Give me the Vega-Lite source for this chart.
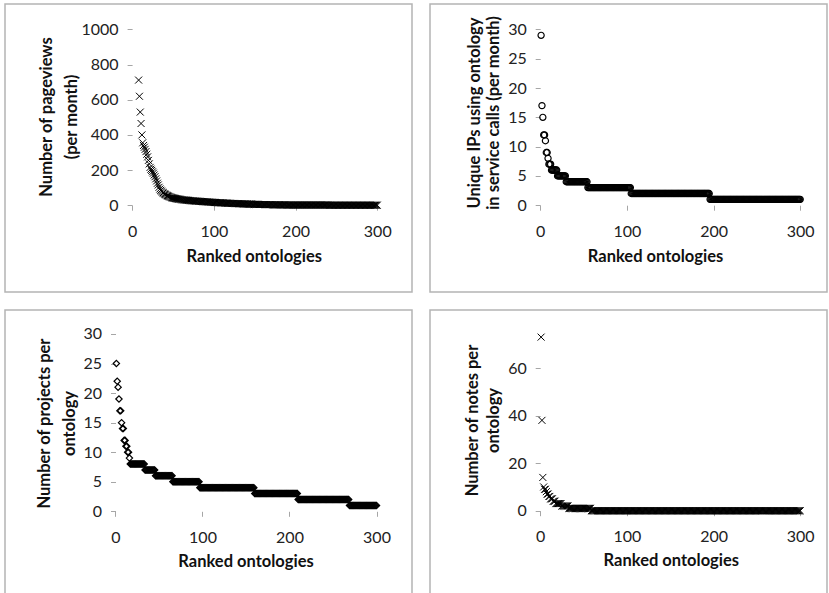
{
"$schema": "https://vega.github.io/schema/vega-lite/v6.json",
"padding": {"left": 4, "top": 3, "right": 0, "bottom": 0},
"background": "white",
"columns": 2,
"spacing": 16,
"config": {
 "view": {"stroke": "#b4b4b4", "strokeWidth": 1.5},
 "font": "Lato",
 "axis": {"grid": false, "domain": false, "tickColor": "#a6a6a6", "tickSize": 5, "tickWidth": 1, "labelFont": "Lato", "labelFontSize": 16, "labelColor": "#222222", "titleFont": "Lato", "titleFontSize": 16.5, "titleFontWeight": "bold", "titleColor": "#111111", "labelFlush": false, "labelOverlap": false, "format": "d"}
},
"datasets": {
"pv": [{"r":8,"v":712},{"r":9,"v":620},{"r":10,"v":530},{"r":11,"v":465},{"r":12,"v":400},{"r":13,"v":355},{"r":14,"v":340},{"r":15,"v":330},{"r":16,"v":318},{"r":17,"v":305},{"r":18,"v":290},{"r":19,"v":275},{"r":20,"v":255},{"r":21,"v":235},{"r":22,"v":215},{"r":23,"v":205},{"r":24,"v":198},{"r":25,"v":190},{"r":26,"v":182},{"r":27,"v":172},{"r":28,"v":162},{"r":29,"v":150},{"r":30,"v":138},{"r":31,"v":125},{"r":32,"v":115},{"r":33,"v":102},{"r":34,"v":92},{"r":35,"v":85},{"r":36,"v":80},{"r":37,"v":74},{"r":38,"v":70},{"r":39,"v":66},{"r":40,"v":63},{"r":41,"v":60},{"r":42,"v":57},{"r":43,"v":54},{"r":44,"v":52},{"r":45,"v":50},{"r":46,"v":48},{"r":47,"v":46},{"r":48,"v":44},{"r":49,"v":42},{"r":50,"v":41},{"r":51,"v":40},{"r":52,"v":39},{"r":53,"v":38},{"r":54,"v":37},{"r":55,"v":36},{"r":56,"v":35},{"r":57,"v":34},{"r":58,"v":34},{"r":59,"v":33},{"r":60,"v":32},{"r":61,"v":31},{"r":62,"v":31},{"r":63,"v":30},{"r":64,"v":30},{"r":65,"v":29},{"r":66,"v":29},{"r":67,"v":28},{"r":68,"v":28},{"r":69,"v":27},{"r":70,"v":27},{"r":71,"v":26},{"r":72,"v":26},{"r":73,"v":25},{"r":74,"v":25},{"r":75,"v":25},{"r":76,"v":24},{"r":77,"v":24},{"r":78,"v":23},{"r":79,"v":23},{"r":80,"v":23},{"r":81,"v":22},{"r":82,"v":22},{"r":83,"v":22},{"r":84,"v":21},{"r":85,"v":21},{"r":86,"v":21},{"r":87,"v":20},{"r":88,"v":20},{"r":89,"v":20},{"r":90,"v":19},{"r":91,"v":19},{"r":92,"v":19},{"r":93,"v":18},{"r":94,"v":18},{"r":95,"v":18},{"r":96,"v":17},{"r":97,"v":17},{"r":98,"v":17},{"r":99,"v":16},{"r":100,"v":16},{"r":101,"v":16},{"r":102,"v":15},{"r":103,"v":15},{"r":104,"v":15},{"r":105,"v":14},{"r":106,"v":14},{"r":107,"v":14},{"r":108,"v":14},{"r":109,"v":13},{"r":110,"v":13},{"r":111,"v":13},{"r":112,"v":13},{"r":113,"v":12},{"r":114,"v":12},{"r":115,"v":12},{"r":116,"v":12},{"r":117,"v":11},{"r":118,"v":11},{"r":119,"v":11},{"r":120,"v":11},{"r":121,"v":10},{"r":122,"v":10},{"r":123,"v":10},{"r":124,"v":10},{"r":125,"v":10},{"r":126,"v":9},{"r":127,"v":9},{"r":128,"v":9},{"r":129,"v":9},{"r":130,"v":9},{"r":131,"v":8},{"r":132,"v":8},{"r":133,"v":8},{"r":134,"v":8},{"r":135,"v":8},{"r":136,"v":7},{"r":137,"v":7},{"r":138,"v":7},{"r":139,"v":7},{"r":140,"v":7},{"r":141,"v":7},{"r":142,"v":6},{"r":143,"v":6},{"r":144,"v":6},{"r":145,"v":6},{"r":146,"v":6},{"r":147,"v":6},{"r":148,"v":5},{"r":149,"v":5},{"r":150,"v":5},{"r":151,"v":5},{"r":152,"v":5},{"r":153,"v":5},{"r":154,"v":5},{"r":155,"v":4},{"r":156,"v":4},{"r":157,"v":4},{"r":158,"v":4},{"r":159,"v":4},{"r":160,"v":4},{"r":161,"v":4},{"r":162,"v":4},{"r":163,"v":3},{"r":164,"v":3},{"r":165,"v":3},{"r":166,"v":3},{"r":167,"v":3},{"r":168,"v":3},{"r":169,"v":3},{"r":170,"v":3},{"r":171,"v":3},{"r":172,"v":3},{"r":173,"v":2},{"r":174,"v":2},{"r":175,"v":2},{"r":176,"v":2},{"r":177,"v":2},{"r":178,"v":2},{"r":179,"v":2},{"r":180,"v":2},{"r":181,"v":2},{"r":182,"v":2},{"r":183,"v":2},{"r":184,"v":2},{"r":185,"v":2},{"r":186,"v":2},{"r":187,"v":2},{"r":188,"v":2},{"r":189,"v":1},{"r":190,"v":1},{"r":191,"v":1},{"r":192,"v":1},{"r":193,"v":1},{"r":194,"v":1},{"r":195,"v":1},{"r":196,"v":1},{"r":197,"v":1},{"r":198,"v":1},{"r":199,"v":1},{"r":200,"v":1},{"r":201,"v":1},{"r":202,"v":1},{"r":203,"v":1},{"r":204,"v":1},{"r":205,"v":1},{"r":206,"v":1},{"r":207,"v":1},{"r":208,"v":1},{"r":209,"v":1},{"r":210,"v":1},{"r":211,"v":1},{"r":212,"v":1},{"r":213,"v":1},{"r":214,"v":1},{"r":215,"v":1},{"r":216,"v":1},{"r":217,"v":1},{"r":218,"v":1},{"r":219,"v":1},{"r":220,"v":1},{"r":221,"v":1},{"r":222,"v":1},{"r":223,"v":1},{"r":224,"v":1},{"r":225,"v":1},{"r":226,"v":1},{"r":227,"v":1},{"r":228,"v":1},{"r":229,"v":1},{"r":230,"v":1},{"r":231,"v":1},{"r":232,"v":1},{"r":233,"v":1},{"r":234,"v":1},{"r":235,"v":1},{"r":236,"v":1},{"r":237,"v":1},{"r":238,"v":1},{"r":239,"v":1},{"r":240,"v":1},{"r":241,"v":0},{"r":242,"v":0},{"r":243,"v":0},{"r":244,"v":0},{"r":245,"v":0},{"r":246,"v":0},{"r":247,"v":0},{"r":248,"v":0},{"r":249,"v":0},{"r":250,"v":0},{"r":251,"v":0},{"r":252,"v":0},{"r":253,"v":0},{"r":254,"v":0},{"r":255,"v":0},{"r":256,"v":0},{"r":257,"v":0},{"r":258,"v":0},{"r":259,"v":0},{"r":260,"v":0},{"r":261,"v":0},{"r":262,"v":0},{"r":263,"v":0},{"r":264,"v":0},{"r":265,"v":0},{"r":266,"v":0},{"r":267,"v":0},{"r":268,"v":0},{"r":269,"v":0},{"r":270,"v":0},{"r":271,"v":0},{"r":272,"v":0},{"r":273,"v":0},{"r":274,"v":0},{"r":275,"v":0},{"r":276,"v":0},{"r":277,"v":0},{"r":278,"v":0},{"r":279,"v":0},{"r":280,"v":0},{"r":281,"v":0},{"r":282,"v":0},{"r":283,"v":0},{"r":284,"v":0},{"r":285,"v":0},{"r":286,"v":0},{"r":287,"v":0},{"r":288,"v":0},{"r":289,"v":0},{"r":290,"v":0},{"r":291,"v":0},{"r":292,"v":0},{"r":293,"v":0},{"r":294,"v":0},{"r":295,"v":0},{"r":296,"v":0},{"r":297,"v":0},{"r":298,"v":0},{"r":299,"v":0},{"r":300,"v":0}],
"ip": [{"r":1,"v":29},{"r":2,"v":17},{"r":3,"v":15},{"r":4,"v":12},{"r":5,"v":12},{"r":6,"v":11},{"r":7,"v":9},{"r":8,"v":9},{"r":9,"v":8},{"r":10,"v":7},{"r":11,"v":7},{"r":12,"v":7},{"r":13,"v":6},{"r":14,"v":6},{"r":15,"v":6},{"r":16,"v":6},{"r":17,"v":6},{"r":18,"v":6},{"r":19,"v":6},{"r":20,"v":5},{"r":21,"v":5},{"r":22,"v":5},{"r":23,"v":5},{"r":24,"v":5},{"r":25,"v":5},{"r":26,"v":5},{"r":27,"v":5},{"r":28,"v":5},{"r":29,"v":5},{"r":30,"v":4},{"r":31,"v":4},{"r":32,"v":4},{"r":33,"v":4},{"r":34,"v":4},{"r":35,"v":4},{"r":36,"v":4},{"r":37,"v":4},{"r":38,"v":4},{"r":39,"v":4},{"r":40,"v":4},{"r":41,"v":4},{"r":42,"v":4},{"r":43,"v":4},{"r":44,"v":4},{"r":45,"v":4},{"r":46,"v":4},{"r":47,"v":4},{"r":48,"v":4},{"r":49,"v":4},{"r":50,"v":4},{"r":51,"v":4},{"r":52,"v":4},{"r":53,"v":4},{"r":54,"v":4},{"r":55,"v":3},{"r":56,"v":3},{"r":57,"v":3},{"r":58,"v":3},{"r":59,"v":3},{"r":60,"v":3},{"r":61,"v":3},{"r":62,"v":3},{"r":63,"v":3},{"r":64,"v":3},{"r":65,"v":3},{"r":66,"v":3},{"r":67,"v":3},{"r":68,"v":3},{"r":69,"v":3},{"r":70,"v":3},{"r":71,"v":3},{"r":72,"v":3},{"r":73,"v":3},{"r":74,"v":3},{"r":75,"v":3},{"r":76,"v":3},{"r":77,"v":3},{"r":78,"v":3},{"r":79,"v":3},{"r":80,"v":3},{"r":81,"v":3},{"r":82,"v":3},{"r":83,"v":3},{"r":84,"v":3},{"r":85,"v":3},{"r":86,"v":3},{"r":87,"v":3},{"r":88,"v":3},{"r":89,"v":3},{"r":90,"v":3},{"r":91,"v":3},{"r":92,"v":3},{"r":93,"v":3},{"r":94,"v":3},{"r":95,"v":3},{"r":96,"v":3},{"r":97,"v":3},{"r":98,"v":3},{"r":99,"v":3},{"r":100,"v":3},{"r":101,"v":3},{"r":102,"v":3},{"r":103,"v":3},{"r":104,"v":3},{"r":105,"v":2},{"r":106,"v":2},{"r":107,"v":2},{"r":108,"v":2},{"r":109,"v":2},{"r":110,"v":2},{"r":111,"v":2},{"r":112,"v":2},{"r":113,"v":2},{"r":114,"v":2},{"r":115,"v":2},{"r":116,"v":2},{"r":117,"v":2},{"r":118,"v":2},{"r":119,"v":2},{"r":120,"v":2},{"r":121,"v":2},{"r":122,"v":2},{"r":123,"v":2},{"r":124,"v":2},{"r":125,"v":2},{"r":126,"v":2},{"r":127,"v":2},{"r":128,"v":2},{"r":129,"v":2},{"r":130,"v":2},{"r":131,"v":2},{"r":132,"v":2},{"r":133,"v":2},{"r":134,"v":2},{"r":135,"v":2},{"r":136,"v":2},{"r":137,"v":2},{"r":138,"v":2},{"r":139,"v":2},{"r":140,"v":2},{"r":141,"v":2},{"r":142,"v":2},{"r":143,"v":2},{"r":144,"v":2},{"r":145,"v":2},{"r":146,"v":2},{"r":147,"v":2},{"r":148,"v":2},{"r":149,"v":2},{"r":150,"v":2},{"r":151,"v":2},{"r":152,"v":2},{"r":153,"v":2},{"r":154,"v":2},{"r":155,"v":2},{"r":156,"v":2},{"r":157,"v":2},{"r":158,"v":2},{"r":159,"v":2},{"r":160,"v":2},{"r":161,"v":2},{"r":162,"v":2},{"r":163,"v":2},{"r":164,"v":2},{"r":165,"v":2},{"r":166,"v":2},{"r":167,"v":2},{"r":168,"v":2},{"r":169,"v":2},{"r":170,"v":2},{"r":171,"v":2},{"r":172,"v":2},{"r":173,"v":2},{"r":174,"v":2},{"r":175,"v":2},{"r":176,"v":2},{"r":177,"v":2},{"r":178,"v":2},{"r":179,"v":2},{"r":180,"v":2},{"r":181,"v":2},{"r":182,"v":2},{"r":183,"v":2},{"r":184,"v":2},{"r":185,"v":2},{"r":186,"v":2},{"r":187,"v":2},{"r":188,"v":2},{"r":189,"v":2},{"r":190,"v":2},{"r":191,"v":2},{"r":192,"v":2},{"r":193,"v":2},{"r":194,"v":2},{"r":195,"v":2},{"r":196,"v":1},{"r":197,"v":1},{"r":198,"v":1},{"r":199,"v":1},{"r":200,"v":1},{"r":201,"v":1},{"r":202,"v":1},{"r":203,"v":1},{"r":204,"v":1},{"r":205,"v":1},{"r":206,"v":1},{"r":207,"v":1},{"r":208,"v":1},{"r":209,"v":1},{"r":210,"v":1},{"r":211,"v":1},{"r":212,"v":1},{"r":213,"v":1},{"r":214,"v":1},{"r":215,"v":1},{"r":216,"v":1},{"r":217,"v":1},{"r":218,"v":1},{"r":219,"v":1},{"r":220,"v":1},{"r":221,"v":1},{"r":222,"v":1},{"r":223,"v":1},{"r":224,"v":1},{"r":225,"v":1},{"r":226,"v":1},{"r":227,"v":1},{"r":228,"v":1},{"r":229,"v":1},{"r":230,"v":1},{"r":231,"v":1},{"r":232,"v":1},{"r":233,"v":1},{"r":234,"v":1},{"r":235,"v":1},{"r":236,"v":1},{"r":237,"v":1},{"r":238,"v":1},{"r":239,"v":1},{"r":240,"v":1},{"r":241,"v":1},{"r":242,"v":1},{"r":243,"v":1},{"r":244,"v":1},{"r":245,"v":1},{"r":246,"v":1},{"r":247,"v":1},{"r":248,"v":1},{"r":249,"v":1},{"r":250,"v":1},{"r":251,"v":1},{"r":252,"v":1},{"r":253,"v":1},{"r":254,"v":1},{"r":255,"v":1},{"r":256,"v":1},{"r":257,"v":1},{"r":258,"v":1},{"r":259,"v":1},{"r":260,"v":1},{"r":261,"v":1},{"r":262,"v":1},{"r":263,"v":1},{"r":264,"v":1},{"r":265,"v":1},{"r":266,"v":1},{"r":267,"v":1},{"r":268,"v":1},{"r":269,"v":1},{"r":270,"v":1},{"r":271,"v":1},{"r":272,"v":1},{"r":273,"v":1},{"r":274,"v":1},{"r":275,"v":1},{"r":276,"v":1},{"r":277,"v":1},{"r":278,"v":1},{"r":279,"v":1},{"r":280,"v":1},{"r":281,"v":1},{"r":282,"v":1},{"r":283,"v":1},{"r":284,"v":1},{"r":285,"v":1},{"r":286,"v":1},{"r":287,"v":1},{"r":288,"v":1},{"r":289,"v":1},{"r":290,"v":1},{"r":291,"v":1},{"r":292,"v":1},{"r":293,"v":1},{"r":294,"v":1},{"r":295,"v":1},{"r":296,"v":1},{"r":297,"v":1},{"r":298,"v":1},{"r":299,"v":1},{"r":300,"v":1}],
"pr": [{"r":1,"v":25},{"r":2,"v":22},{"r":3,"v":21},{"r":4,"v":19},{"r":5,"v":17},{"r":6,"v":17},{"r":7,"v":15},{"r":8,"v":14},{"r":9,"v":14},{"r":10,"v":12},{"r":11,"v":12},{"r":12,"v":11},{"r":13,"v":11},{"r":14,"v":10},{"r":15,"v":10},{"r":16,"v":9},{"r":17,"v":8},{"r":18,"v":8},{"r":19,"v":8},{"r":20,"v":8},{"r":21,"v":8},{"r":22,"v":8},{"r":23,"v":8},{"r":24,"v":8},{"r":25,"v":8},{"r":26,"v":8},{"r":27,"v":8},{"r":28,"v":8},{"r":29,"v":8},{"r":30,"v":8},{"r":31,"v":8},{"r":32,"v":8},{"r":33,"v":8},{"r":34,"v":7},{"r":35,"v":7},{"r":36,"v":7},{"r":37,"v":7},{"r":38,"v":7},{"r":39,"v":7},{"r":40,"v":7},{"r":41,"v":7},{"r":42,"v":7},{"r":43,"v":7},{"r":44,"v":7},{"r":45,"v":7},{"r":46,"v":6},{"r":47,"v":6},{"r":48,"v":6},{"r":49,"v":6},{"r":50,"v":6},{"r":51,"v":6},{"r":52,"v":6},{"r":53,"v":6},{"r":54,"v":6},{"r":55,"v":6},{"r":56,"v":6},{"r":57,"v":6},{"r":58,"v":6},{"r":59,"v":6},{"r":60,"v":6},{"r":61,"v":6},{"r":62,"v":6},{"r":63,"v":6},{"r":64,"v":6},{"r":65,"v":6},{"r":66,"v":5},{"r":67,"v":5},{"r":68,"v":5},{"r":69,"v":5},{"r":70,"v":5},{"r":71,"v":5},{"r":72,"v":5},{"r":73,"v":5},{"r":74,"v":5},{"r":75,"v":5},{"r":76,"v":5},{"r":77,"v":5},{"r":78,"v":5},{"r":79,"v":5},{"r":80,"v":5},{"r":81,"v":5},{"r":82,"v":5},{"r":83,"v":5},{"r":84,"v":5},{"r":85,"v":5},{"r":86,"v":5},{"r":87,"v":5},{"r":88,"v":5},{"r":89,"v":5},{"r":90,"v":5},{"r":91,"v":5},{"r":92,"v":5},{"r":93,"v":5},{"r":94,"v":5},{"r":95,"v":5},{"r":96,"v":5},{"r":97,"v":4},{"r":98,"v":4},{"r":99,"v":4},{"r":100,"v":4},{"r":101,"v":4},{"r":102,"v":4},{"r":103,"v":4},{"r":104,"v":4},{"r":105,"v":4},{"r":106,"v":4},{"r":107,"v":4},{"r":108,"v":4},{"r":109,"v":4},{"r":110,"v":4},{"r":111,"v":4},{"r":112,"v":4},{"r":113,"v":4},{"r":114,"v":4},{"r":115,"v":4},{"r":116,"v":4},{"r":117,"v":4},{"r":118,"v":4},{"r":119,"v":4},{"r":120,"v":4},{"r":121,"v":4},{"r":122,"v":4},{"r":123,"v":4},{"r":124,"v":4},{"r":125,"v":4},{"r":126,"v":4},{"r":127,"v":4},{"r":128,"v":4},{"r":129,"v":4},{"r":130,"v":4},{"r":131,"v":4},{"r":132,"v":4},{"r":133,"v":4},{"r":134,"v":4},{"r":135,"v":4},{"r":136,"v":4},{"r":137,"v":4},{"r":138,"v":4},{"r":139,"v":4},{"r":140,"v":4},{"r":141,"v":4},{"r":142,"v":4},{"r":143,"v":4},{"r":144,"v":4},{"r":145,"v":4},{"r":146,"v":4},{"r":147,"v":4},{"r":148,"v":4},{"r":149,"v":4},{"r":150,"v":4},{"r":151,"v":4},{"r":152,"v":4},{"r":153,"v":4},{"r":154,"v":4},{"r":155,"v":4},{"r":156,"v":4},{"r":157,"v":4},{"r":158,"v":4},{"r":159,"v":4},{"r":160,"v":3},{"r":161,"v":3},{"r":162,"v":3},{"r":163,"v":3},{"r":164,"v":3},{"r":165,"v":3},{"r":166,"v":3},{"r":167,"v":3},{"r":168,"v":3},{"r":169,"v":3},{"r":170,"v":3},{"r":171,"v":3},{"r":172,"v":3},{"r":173,"v":3},{"r":174,"v":3},{"r":175,"v":3},{"r":176,"v":3},{"r":177,"v":3},{"r":178,"v":3},{"r":179,"v":3},{"r":180,"v":3},{"r":181,"v":3},{"r":182,"v":3},{"r":183,"v":3},{"r":184,"v":3},{"r":185,"v":3},{"r":186,"v":3},{"r":187,"v":3},{"r":188,"v":3},{"r":189,"v":3},{"r":190,"v":3},{"r":191,"v":3},{"r":192,"v":3},{"r":193,"v":3},{"r":194,"v":3},{"r":195,"v":3},{"r":196,"v":3},{"r":197,"v":3},{"r":198,"v":3},{"r":199,"v":3},{"r":200,"v":3},{"r":201,"v":3},{"r":202,"v":3},{"r":203,"v":3},{"r":204,"v":3},{"r":205,"v":3},{"r":206,"v":3},{"r":207,"v":3},{"r":208,"v":3},{"r":209,"v":3},{"r":210,"v":2},{"r":211,"v":2},{"r":212,"v":2},{"r":213,"v":2},{"r":214,"v":2},{"r":215,"v":2},{"r":216,"v":2},{"r":217,"v":2},{"r":218,"v":2},{"r":219,"v":2},{"r":220,"v":2},{"r":221,"v":2},{"r":222,"v":2},{"r":223,"v":2},{"r":224,"v":2},{"r":225,"v":2},{"r":226,"v":2},{"r":227,"v":2},{"r":228,"v":2},{"r":229,"v":2},{"r":230,"v":2},{"r":231,"v":2},{"r":232,"v":2},{"r":233,"v":2},{"r":234,"v":2},{"r":235,"v":2},{"r":236,"v":2},{"r":237,"v":2},{"r":238,"v":2},{"r":239,"v":2},{"r":240,"v":2},{"r":241,"v":2},{"r":242,"v":2},{"r":243,"v":2},{"r":244,"v":2},{"r":245,"v":2},{"r":246,"v":2},{"r":247,"v":2},{"r":248,"v":2},{"r":249,"v":2},{"r":250,"v":2},{"r":251,"v":2},{"r":252,"v":2},{"r":253,"v":2},{"r":254,"v":2},{"r":255,"v":2},{"r":256,"v":2},{"r":257,"v":2},{"r":258,"v":2},{"r":259,"v":2},{"r":260,"v":2},{"r":261,"v":2},{"r":262,"v":2},{"r":263,"v":2},{"r":264,"v":2},{"r":265,"v":2},{"r":266,"v":2},{"r":267,"v":2},{"r":268,"v":2},{"r":269,"v":1},{"r":270,"v":1},{"r":271,"v":1},{"r":272,"v":1},{"r":273,"v":1},{"r":274,"v":1},{"r":275,"v":1},{"r":276,"v":1},{"r":277,"v":1},{"r":278,"v":1},{"r":279,"v":1},{"r":280,"v":1},{"r":281,"v":1},{"r":282,"v":1},{"r":283,"v":1},{"r":284,"v":1},{"r":285,"v":1},{"r":286,"v":1},{"r":287,"v":1},{"r":288,"v":1},{"r":289,"v":1},{"r":290,"v":1},{"r":291,"v":1},{"r":292,"v":1},{"r":293,"v":1},{"r":294,"v":1},{"r":295,"v":1},{"r":296,"v":1},{"r":297,"v":1},{"r":298,"v":1},{"r":299,"v":1},{"r":300,"v":1}],
"nt": [{"r":1,"v":73},{"r":2,"v":38},{"r":3,"v":14},{"r":4,"v":10},{"r":5,"v":9},{"r":6,"v":9},{"r":7,"v":8},{"r":8,"v":7},{"r":9,"v":7},{"r":10,"v":6},{"r":11,"v":6},{"r":12,"v":5},{"r":13,"v":5},{"r":14,"v":5},{"r":15,"v":4},{"r":16,"v":4},{"r":17,"v":4},{"r":18,"v":3},{"r":19,"v":3},{"r":20,"v":3},{"r":21,"v":3},{"r":22,"v":3},{"r":23,"v":3},{"r":24,"v":3},{"r":25,"v":2},{"r":26,"v":2},{"r":27,"v":2},{"r":28,"v":2},{"r":29,"v":2},{"r":30,"v":2},{"r":31,"v":2},{"r":32,"v":2},{"r":33,"v":1},{"r":34,"v":1},{"r":35,"v":1},{"r":36,"v":1},{"r":37,"v":1},{"r":38,"v":1},{"r":39,"v":1},{"r":40,"v":1},{"r":41,"v":1},{"r":42,"v":1},{"r":43,"v":1},{"r":44,"v":1},{"r":45,"v":1},{"r":46,"v":1},{"r":47,"v":1},{"r":48,"v":1},{"r":49,"v":1},{"r":50,"v":1},{"r":51,"v":1},{"r":52,"v":1},{"r":53,"v":1},{"r":54,"v":1},{"r":55,"v":1},{"r":56,"v":1},{"r":57,"v":1},{"r":58,"v":1},{"r":59,"v":0},{"r":60,"v":0},{"r":61,"v":0},{"r":62,"v":0},{"r":63,"v":0},{"r":64,"v":0},{"r":65,"v":0},{"r":66,"v":0},{"r":67,"v":0},{"r":68,"v":0},{"r":69,"v":0},{"r":70,"v":0},{"r":71,"v":0},{"r":72,"v":0},{"r":73,"v":0},{"r":74,"v":0},{"r":75,"v":0},{"r":76,"v":0},{"r":77,"v":0},{"r":78,"v":0},{"r":79,"v":0},{"r":80,"v":0},{"r":81,"v":0},{"r":82,"v":0},{"r":83,"v":0},{"r":84,"v":0},{"r":85,"v":0},{"r":86,"v":0},{"r":87,"v":0},{"r":88,"v":0},{"r":89,"v":0},{"r":90,"v":0},{"r":91,"v":0},{"r":92,"v":0},{"r":93,"v":0},{"r":94,"v":0},{"r":95,"v":0},{"r":96,"v":0},{"r":97,"v":0},{"r":98,"v":0},{"r":99,"v":0},{"r":100,"v":0},{"r":101,"v":0},{"r":102,"v":0},{"r":103,"v":0},{"r":104,"v":0},{"r":105,"v":0},{"r":106,"v":0},{"r":107,"v":0},{"r":108,"v":0},{"r":109,"v":0},{"r":110,"v":0},{"r":111,"v":0},{"r":112,"v":0},{"r":113,"v":0},{"r":114,"v":0},{"r":115,"v":0},{"r":116,"v":0},{"r":117,"v":0},{"r":118,"v":0},{"r":119,"v":0},{"r":120,"v":0},{"r":121,"v":0},{"r":122,"v":0},{"r":123,"v":0},{"r":124,"v":0},{"r":125,"v":0},{"r":126,"v":0},{"r":127,"v":0},{"r":128,"v":0},{"r":129,"v":0},{"r":130,"v":0},{"r":131,"v":0},{"r":132,"v":0},{"r":133,"v":0},{"r":134,"v":0},{"r":135,"v":0},{"r":136,"v":0},{"r":137,"v":0},{"r":138,"v":0},{"r":139,"v":0},{"r":140,"v":0},{"r":141,"v":0},{"r":142,"v":0},{"r":143,"v":0},{"r":144,"v":0},{"r":145,"v":0},{"r":146,"v":0},{"r":147,"v":0},{"r":148,"v":0},{"r":149,"v":0},{"r":150,"v":0},{"r":151,"v":0},{"r":152,"v":0},{"r":153,"v":0},{"r":154,"v":0},{"r":155,"v":0},{"r":156,"v":0},{"r":157,"v":0},{"r":158,"v":0},{"r":159,"v":0},{"r":160,"v":0},{"r":161,"v":0},{"r":162,"v":0},{"r":163,"v":0},{"r":164,"v":0},{"r":165,"v":0},{"r":166,"v":0},{"r":167,"v":0},{"r":168,"v":0},{"r":169,"v":0},{"r":170,"v":0},{"r":171,"v":0},{"r":172,"v":0},{"r":173,"v":0},{"r":174,"v":0},{"r":175,"v":0},{"r":176,"v":0},{"r":177,"v":0},{"r":178,"v":0},{"r":179,"v":0},{"r":180,"v":0},{"r":181,"v":0},{"r":182,"v":0},{"r":183,"v":0},{"r":184,"v":0},{"r":185,"v":0},{"r":186,"v":0},{"r":187,"v":0},{"r":188,"v":0},{"r":189,"v":0},{"r":190,"v":0},{"r":191,"v":0},{"r":192,"v":0},{"r":193,"v":0},{"r":194,"v":0},{"r":195,"v":0},{"r":196,"v":0},{"r":197,"v":0},{"r":198,"v":0},{"r":199,"v":0},{"r":200,"v":0},{"r":201,"v":0},{"r":202,"v":0},{"r":203,"v":0},{"r":204,"v":0},{"r":205,"v":0},{"r":206,"v":0},{"r":207,"v":0},{"r":208,"v":0},{"r":209,"v":0},{"r":210,"v":0},{"r":211,"v":0},{"r":212,"v":0},{"r":213,"v":0},{"r":214,"v":0},{"r":215,"v":0},{"r":216,"v":0},{"r":217,"v":0},{"r":218,"v":0},{"r":219,"v":0},{"r":220,"v":0},{"r":221,"v":0},{"r":222,"v":0},{"r":223,"v":0},{"r":224,"v":0},{"r":225,"v":0},{"r":226,"v":0},{"r":227,"v":0},{"r":228,"v":0},{"r":229,"v":0},{"r":230,"v":0},{"r":231,"v":0},{"r":232,"v":0},{"r":233,"v":0},{"r":234,"v":0},{"r":235,"v":0},{"r":236,"v":0},{"r":237,"v":0},{"r":238,"v":0},{"r":239,"v":0},{"r":240,"v":0},{"r":241,"v":0},{"r":242,"v":0},{"r":243,"v":0},{"r":244,"v":0},{"r":245,"v":0},{"r":246,"v":0},{"r":247,"v":0},{"r":248,"v":0},{"r":249,"v":0},{"r":250,"v":0},{"r":251,"v":0},{"r":252,"v":0},{"r":253,"v":0},{"r":254,"v":0},{"r":255,"v":0},{"r":256,"v":0},{"r":257,"v":0},{"r":258,"v":0},{"r":259,"v":0},{"r":260,"v":0},{"r":261,"v":0},{"r":262,"v":0},{"r":263,"v":0},{"r":264,"v":0},{"r":265,"v":0},{"r":266,"v":0},{"r":267,"v":0},{"r":268,"v":0},{"r":269,"v":0},{"r":270,"v":0},{"r":271,"v":0},{"r":272,"v":0},{"r":273,"v":0},{"r":274,"v":0},{"r":275,"v":0},{"r":276,"v":0},{"r":277,"v":0},{"r":278,"v":0},{"r":279,"v":0},{"r":280,"v":0},{"r":281,"v":0},{"r":282,"v":0},{"r":283,"v":0},{"r":284,"v":0},{"r":285,"v":0},{"r":286,"v":0},{"r":287,"v":0},{"r":288,"v":0},{"r":289,"v":0},{"r":290,"v":0},{"r":291,"v":0},{"r":292,"v":0},{"r":293,"v":0},{"r":294,"v":0},{"r":295,"v":0},{"r":296,"v":0},{"r":297,"v":0},{"r":298,"v":0},{"r":299,"v":0},{"r":300,"v":0}]
},
"concat": [
 {
  "width": 407, "height": 288,
  "layer": [
   {"mark": {"type": "rule", "color": "#a6a6a6", "strokeWidth": 1}, "encoding": {"x": {"datum": 0, "type": "quantitative", "scale": {"domain": [-155.5, 342.5], "nice": false, "zero": false}}, "y": {"datum": 0, "type": "quantitative", "scale": {"domain": [-494, 1145], "nice": false, "zero": false}}, "y2": {"datum": 1000}}},
   {"mark": {"type": "rule", "color": "#a6a6a6", "strokeWidth": 1}, "encoding": {"x": {"datum": 0, "type": "quantitative"}, "x2": {"datum": 300}, "y": {"datum": 0, "type": "quantitative"}}},
   {"data": {"name": "pv"}, "mark": {"type": "point", "shape": "M-1,-1L1,1M1,-1L-1,1", "filled": false, "color": "black", "size": 49, "strokeWidth": 1, "opacity": 1},
    "encoding": {
     "x": {"field": "r", "type": "quantitative", "scale": {"domain": [-155.5, 342.5], "nice": false, "zero": false}, "axis": {"values": [0, 100, 200, 300], "offset": -86.8, "title": "Ranked ontologies", "titleX": 248.8, "titleY": 56.3, "titleBaseline": "alphabetic", "labelPadding": 13}},
     "y": {"field": "v", "type": "quantitative", "scale": {"domain": [-494, 1145], "nice": false, "zero": false}, "axis": {"values": [0, 200, 400, 600, 800, 1000], "offset": -127.1, "title": ["Number of pageviews", "(per month)"], "titleX": -86.1, "titleY": 112.5, "titleAngle": 270, "titleBaseline": "middle", "titleAlign": "center", "titleLineHeight": 25, "labelPadding": 9}}
    }}
  ]
 },
 {
  "width": 397, "height": 288,
  "layer": [
   {"mark": {"type": "rule", "color": "#a6a6a6", "strokeWidth": 1}, "encoding": {"x": {"datum": 0, "type": "quantitative", "scale": {"domain": [-127.2, 330.9], "nice": false, "zero": false}}, "y": {"datum": 0, "type": "quantitative", "scale": {"domain": [-14.82, 34.35], "nice": false, "zero": false}}, "y2": {"datum": 30}}},
   {"mark": {"type": "rule", "color": "#a6a6a6", "strokeWidth": 1}, "encoding": {"x": {"datum": 0, "type": "quantitative"}, "x2": {"datum": 300}, "y": {"datum": 0, "type": "quantitative"}}},
   {"data": {"name": "ip"}, "mark": {"type": "point", "shape": "circle", "filled": false, "color": "black", "size": 38, "strokeWidth": 1.2, "opacity": 1},
    "encoding": {
     "x": {"field": "r", "type": "quantitative", "scale": {"domain": [-127.2, 330.9], "nice": false, "zero": false}, "axis": {"values": [0, 100, 200, 300], "offset": -86.8, "title": "Ranked ontologies", "titleX": 225, "titleY": 56, "titleBaseline": "alphabetic", "labelPadding": 13}},
     "y": {"field": "v", "type": "quantitative", "scale": {"domain": [-14.82, 34.35], "nice": false, "zero": false}, "axis": {"values": [0, 5, 10, 15, 20, 25, 30], "offset": -110.2, "title": ["Unique IPs using ontology", "in service calls (per month)"], "titleX": -66.2, "titleY": 108.5, "titleAngle": 270, "titleBaseline": "middle", "titleAlign": "center", "titleLineHeight": 19, "labelPadding": 9}}
    }}
  ]
 },
 {
  "width": 407, "height": 288,
  "layer": [
   {"mark": {"type": "rule", "color": "#a6a6a6", "strokeWidth": 1}, "encoding": {"x": {"datum": 0, "type": "quantitative", "scale": {"domain": [-127, 340.8], "nice": false, "zero": false}}, "y": {"datum": 0, "type": "quantitative", "scale": {"domain": [-14.67, 34.06], "nice": false, "zero": false}}, "y2": {"datum": 30}}},
   {"mark": {"type": "rule", "color": "#a6a6a6", "strokeWidth": 1}, "encoding": {"x": {"datum": 0, "type": "quantitative"}, "x2": {"datum": 300}, "y": {"datum": 0, "type": "quantitative"}}},
   {"data": {"name": "pr"}, "mark": {"type": "point", "shape": "diamond", "filled": false, "color": "black", "size": 40, "strokeWidth": 1.2, "opacity": 1},
    "encoding": {
     "x": {"field": "r", "type": "quantitative", "scale": {"domain": [-127, 340.8], "nice": false, "zero": false}, "axis": {"values": [0, 100, 200, 300], "offset": -86.7, "title": "Ranked ontologies", "titleX": 240.5, "titleY": 55, "titleBaseline": "alphabetic", "labelPadding": 13}},
     "y": {"field": "v", "type": "quantitative", "scale": {"domain": [-14.67, 34.06], "nice": false, "zero": false}, "axis": {"values": [0, 5, 10, 15, 20, 25, 30], "offset": -110.5, "title": ["Number of projects per", "ontology"], "titleX": -71, "titleY": 113, "titleAngle": 270, "titleBaseline": "middle", "titleAlign": "center", "titleLineHeight": 25, "labelPadding": 9}}
    }}
  ]
 },
 {
  "width": 397, "height": 288,
  "layer": [
   {"mark": {"type": "rule", "color": "#a6a6a6", "strokeWidth": 1}, "encoding": {"x": {"datum": 0, "type": "quantitative", "scale": {"domain": [-127.2, 330.9], "nice": false, "zero": false}}, "y": {"datum": 0, "type": "quantitative", "scale": {"domain": [-36.7, 84.4], "nice": false, "zero": false}}, "y2": {"datum": 74}}},
   {"mark": {"type": "rule", "color": "#a6a6a6", "strokeWidth": 1}, "encoding": {"x": {"datum": 0, "type": "quantitative"}, "x2": {"datum": 300}, "y": {"datum": 0, "type": "quantitative"}}},
   {"data": {"name": "nt"}, "mark": {"type": "point", "shape": "M-1,-1L1,1M1,-1L-1,1", "filled": false, "color": "black", "size": 49, "strokeWidth": 1, "opacity": 1},
    "encoding": {
     "x": {"field": "r", "type": "quantitative", "scale": {"domain": [-127.2, 330.9], "nice": false, "zero": false}, "axis": {"values": [0, 100, 200, 300], "offset": -87.3, "title": "Ranked ontologies", "titleX": 240.8, "titleY": 55, "titleBaseline": "alphabetic", "labelPadding": 13}},
     "y": {"field": "v", "type": "quantitative", "scale": {"domain": [-36.7, 84.4], "nice": false, "zero": false}, "axis": {"values": [0, 20, 40, 60], "offset": -110.2, "title": ["Number of notes per", "ontology"], "titleX": -68.2, "titleY": 110, "titleAngle": 270, "titleBaseline": "middle", "titleAlign": "center", "titleLineHeight": 21, "labelPadding": 9}}
    }}
  ]
 }
]
}
